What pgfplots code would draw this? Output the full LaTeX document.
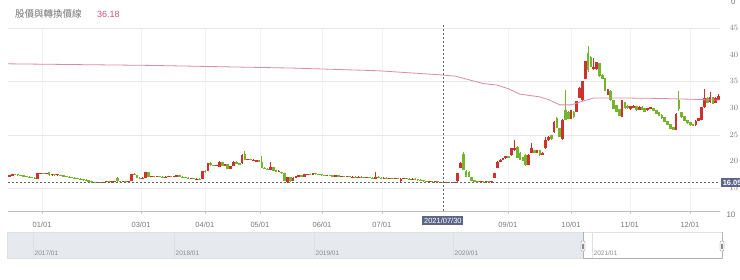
\documentclass[border=0pt]{standalone}
\usepackage{pgfplots}
\pgfplotsset{compat=1.18}
\usepackage{pgfplotstable}
\usepackage{fontspec}
\setmainfont{Liberation Sans}
\newfontfamily\cjk{Noto Sans CJK TC}
\definecolor{cred}{HTML}{D0312D}
\definecolor{cgreen}{HTML}{74B52E}
\definecolor{cpink}{HTML}{D98BA6}
\definecolor{cpinkt}{HTML}{C2557E}
\definecolor{slate}{HTML}{5B6587}
\definecolor{tickc}{HTML}{777777}
\definecolor{navgrey}{HTML}{E6E9EE}

\pgfplotstableread{
i o h l c
0 17.1 17.4 17.0 17.3
1 17.3 17.7 17.2 17.6
2 17.6 17.7 17.4 17.5
3 17.5 17.6 17.3 17.4
4 17.4 17.5 17.2 17.3
5 17.3 17.4 17.1 17.2
6 17.2 17.3 17.0 17.1
7 17.1 17.2 16.9 17.0
8 17.0 17.1 16.8 16.9
9 16.9 17.0 16.7 16.8
10 16.8 17.8 16.7 17.7
11 17.7 17.9 17.6 17.8
12 17.8 17.9 17.6 17.7
13 17.7 17.9 17.6 17.8
14 18.0 18.1 17.3 17.4
15 17.4 17.7 17.3 17.6
16 17.5 17.6 17.3 17.4
17 17.4 17.6 17.3 17.5
18 17.4 17.5 17.2 17.3
19 17.3 17.4 17.1 17.2
20 17.2 17.3 17.0 17.1
21 17.1 17.2 16.9 17.0
22 17.0 17.1 16.8 16.9
23 16.9 17.0 16.7 16.8
24 16.8 16.9 16.6 16.7
25 16.7 16.8 16.5 16.6
26 16.6 16.7 16.4 16.5
27 16.5 16.6 16.3 16.4
28 16.4 16.5 16.1 16.2
29 16.2 16.3 16.0 16.1
30 16.1 16.2 15.9 16.0
31 16.0 16.2 15.9 16.1
32 16.1 16.2 15.9 16.0
33 16.0 16.2 15.9 16.1
34 16.1 16.3 16.0 16.2
35 16.2 16.3 16.0 16.1
36 16.1 16.3 16.0 16.2
37 16.2 16.4 16.1 16.3
38 16.9 17.0 16.2 16.3
39 16.3 16.4 16.1 16.2
40 16.2 16.4 16.1 16.3
41 16.3 16.4 16.1 16.2
42 16.2 16.4 16.1 16.3
43 16.4 17.7 16.3 17.6
44 17.6 17.8 17.4 17.5
45 17.3 17.4 16.8 16.9
46 16.9 17.0 16.7 16.8
47 16.8 17.0 16.7 16.9
48 17.0 18.1 16.9 17.9
49 17.9 18.0 17.0 17.1
50 17.1 17.3 17.0 17.2
51 17.2 17.3 17.0 17.1
52 17.1 17.3 17.0 17.2
53 17.2 17.3 17.0 17.1
54 17.1 17.2 16.9 17.0
55 17.0 17.2 16.9 17.1
56 17.1 17.3 17.0 17.2
57 17.2 17.3 17.0 17.1
58 17.1 17.3 17.0 17.2
59 17.2 17.4 17.1 17.3
60 17.3 17.4 17.0 17.1
61 17.1 17.2 16.9 17.0
62 17.0 17.1 16.8 16.9
63 16.9 17.0 16.7 16.8
64 16.8 16.9 16.7 16.8
65 16.8 16.9 16.6 16.7
66 16.7 16.8 16.6 16.7
67 16.7 16.8 16.5 16.6
68 16.7 18.2 16.6 18.1
69 18.1 18.3 17.9 18.0
70 18.3 19.7 18.2 19.6
71 19.6 19.8 19.2 19.3
72 19.3 19.4 19.1 19.2
73 19.2 19.4 19.1 19.3
74 19.0 20.0 18.9 19.9
75 19.8 19.9 19.1 19.2
76 19.2 19.5 19.1 19.4
77 19.4 19.5 18.5 18.6
78 18.6 19.2 18.5 19.1
79 19.2 20.0 19.1 19.9
80 19.9 20.0 19.5 19.6
81 19.6 19.7 19.3 19.4
82 19.7 21.3 19.6 21.2
83 21.4 21.9 20.2 20.3
84 20.3 20.5 20.2 20.4
85 20.4 20.5 20.2 20.3
86 20.2 20.4 20.1 20.3
87 19.9 20.3 19.8 20.2
88 20.2 20.3 19.9 20.0
89 19.9 21.0 18.7 18.8
90 18.8 18.9 18.5 18.6
91 18.6 18.7 18.4 18.5
92 18.5 19.9 18.4 18.9
93 18.9 19.0 18.2 18.3
94 18.3 18.4 18.0 18.1
95 18.1 18.3 18.0 18.2
96 18.0 18.1 17.6 17.8
97 17.8 17.9 16.3 16.4
98 16.2 17.1 16.0 17.0
99 17.0 17.1 16.2 16.3
100 16.4 17.0 16.3 16.9
101 16.9 17.3 16.8 17.2
102 17.2 17.4 17.1 17.3
103 17.3 17.4 17.1 17.2
104 17.2 17.6 17.1 17.5
105 17.5 17.7 17.4 17.6
106 17.6 17.7 17.4 17.5
107 17.5 17.8 17.4 17.7
108 17.7 17.8 17.5 17.6
109 17.6 17.7 17.4 17.5
110 17.5 17.6 17.3 17.4
111 17.4 17.5 17.2 17.3
112 17.3 17.5 17.2 17.4
113 17.4 17.5 17.2 17.3
114 17.3 17.4 17.1 17.2
115 17.2 17.4 17.1 17.3
116 17.3 17.4 17.1 17.2
117 17.2 17.3 17.1 17.2
118 17.2 17.3 17.0 17.1
119 17.1 17.3 17.0 17.2
120 17.2 17.3 17.0 17.1
121 17.1 17.2 17.0 17.1
122 17.1 17.2 16.9 17.0
123 17.0 17.2 16.9 17.1
124 17.1 17.2 16.9 17.0
125 17.0 17.1 16.8 16.9
126 16.9 17.1 16.8 17.0
127 17.0 17.1 16.8 16.9
128 16.9 17.0 16.7 16.8
129 16.8 18.1 16.7 17.1
130 17.1 17.2 16.8 16.9
131 16.9 17.0 16.7 16.8
132 16.8 17.0 16.7 16.9
133 16.9 17.0 16.7 16.8
134 16.8 16.9 16.7 16.8
135 16.8 16.9 16.6 16.7
136 16.7 16.9 16.6 16.8
137 16.8 16.9 16.6 16.7
138 16.3 16.8 16.2 16.7
139 16.7 16.9 16.6 16.8
140 16.8 16.9 16.6 16.7
141 16.7 16.8 16.5 16.6
142 16.6 16.8 16.5 16.7
143 16.7 16.8 16.5 16.6
144 16.6 16.7 16.4 16.5
145 16.5 16.6 16.3 16.4
146 16.4 16.5 16.2 16.3
147 16.3 16.4 16.1 16.2
148 16.2 16.3 16.1 16.2
149 16.2 16.3 16.0 16.1
150 16.1 16.3 16.0 16.2
151 16.2 16.3 16.0 16.1
152 16.1 16.2 16.0 16.1
153 16.1 16.2 15.9 16.0
154 16.0 16.2 15.9 16.1
155 16.1 16.2 15.9 16.0
156 16.0 16.2 15.9 16.1
157 16.1 16.2 16.0 16.1
158 16.3 17.9 16.2 17.8
159 18.9 19.8 18.8 19.6
160 21.3 21.8 18.3 18.4
161 18.2 18.4 17.1 17.2
162 18.0 18.2 17.0 17.1
163 17.0 17.1 16.3 16.4
164 16.4 16.5 16.1 16.2
165 16.2 16.3 16.0 16.1
166 16.1 16.3 16.0 16.2
167 16.2 16.3 16.0 16.1
168 16.1 16.3 16.0 16.2
169 16.2 16.3 16.0 16.1
170 16.1 16.3 16.0 16.2
171 16.9 17.9 16.8 17.8
172 18.8 20.0 18.7 19.9
173 19.9 20.4 19.8 20.3
174 20.3 20.7 20.2 20.5
175 20.6 21.0 20.5 20.9
176 20.9 21.0 20.6 20.7
177 21.2 22.5 21.1 22.4
178 22.1 24.0 22.0 22.5
179 22.7 22.8 20.6 20.7
180 21.6 21.7 20.2 20.3
181 20.8 20.9 20.0 20.1
182 21.2 21.3 19.2 19.3
183 19.4 21.3 19.3 21.2
184 21.6 23.4 21.5 22.4
185 22.1 22.2 21.6 21.7
186 21.7 22.1 21.6 22.0
187 22.1 22.2 21.1 21.2
188 21.3 21.7 21.2 21.6
189 22.5 24.6 22.4 24.0
190 24.0 24.8 23.9 24.5
191 24.9 25.0 24.1 24.2
192 25.5 27.5 25.4 27.4
193 28.1 28.4 26.2 26.3
194 26.2 26.3 24.5 24.6
195 24.2 27.9 24.1 27.8
196 29.6 33.4 27.7 27.8
197 29.3 29.4 27.9 28.0
198 28.0 29.7 27.9 29.6
199 29.3 29.4 28.2 28.3
200 29.3 31.4 29.2 31.3
201 32.0 33.9 31.9 33.8
202 31.5 35.1 31.4 35.0
203 35.5 38.9 35.4 38.8
204 40.3 41.6 36.8 37.2
205 39.5 39.7 37.7 37.8
206 37.3 39.4 37.2 37.6
207 37.3 38.6 37.2 38.5
208 38.4 38.5 35.9 36.0
209 36.2 36.3 35.4 35.5
210 35.5 35.6 33.2 33.3
211 32.5 33.6 32.4 33.5
212 33.2 33.3 31.4 31.5
213 31.5 31.6 29.8 29.9
214 30.5 30.6 29.2 29.3
215 29.8 29.9 28.5 28.6
216 28.4 31.5 28.3 31.4
217 31.0 31.1 29.9 30.0
218 30.4 30.5 29.9 30.0
219 29.8 30.4 29.7 30.3
220 30.1 30.5 30.0 30.4
221 30.3 30.4 29.5 29.6
222 29.7 30.3 29.6 30.2
223 30.2 30.3 29.6 29.7
224 29.9 30.0 29.3 29.4
225 29.6 30.1 29.5 30.0
226 29.9 30.2 29.8 30.1
227 30.0 30.1 29.4 29.5
228 29.6 29.7 28.9 29.0
229 29.2 29.3 28.5 28.6
230 28.7 28.8 28.0 28.1
231 28.2 28.3 27.3 27.4
232 27.5 27.6 26.8 26.9
233 26.9 27.0 26.1 26.2
234 26.4 26.5 25.9 26.0
235 26.0 29.0 25.9 28.9
236 31.5 33.2 29.5 29.8
237 29.2 29.3 28.2 28.3
238 28.4 28.5 27.5 27.6
239 27.7 27.8 27.1 27.2
240 27.3 27.4 26.7 26.8
241 27.0 27.1 26.6 26.7
242 26.8 27.7 26.7 27.6
243 27.6 28.1 27.5 28.0
244 27.8 30.2 27.7 30.1
245 30.2 33.6 30.1 31.8
246 31.9 32.0 30.9 31.0
247 31.1 33.0 31.0 32.0
248 32.0 32.1 30.8 30.9
249 31.0 32.0 30.9 31.9
250 31.6 32.6 31.5 32.2
}\candles

\pgfplotstableread{
i v
-0.5 38.3
50 38.0
100 37.5
130 37.0
150 36.3
153 36.18
157 36.0
160 35.6
162 35.3
167 34.6
172 34.3
176 33.6
180 32.6
187 32.1
190 31.6
194 30.6
198 30.6
201 31.1
206 31.9
215 31.9
230 31.8
250.5 31.5
}\cvline

\pgfplotsset{
  candle/.style n args={2}{only marks, mark=*, mark size=0pt,
    mark options={draw=none, fill=none},
    error bars/.cd, y dir=minus, y explicit, error mark=none,
    error bar style={line width=#2, draw=#1}},
}

\begin{document}
\begin{tikzpicture}
\path[use as bounding box] (0pt,0pt) rectangle (740pt,-279pt);
\begin{axis}[
  at={(8pt,-211pt)}, anchor=south west,
  scale only axis, width=712pt, height=182.9pt,
  xmin=-0.5, xmax=250.5, ymin=10.69, ymax=45,
  axis x line*=bottom, axis y line*=right,
  y axis line style={draw=none},
  x axis line style={draw=black!25},
  clip mode=individual,
  ytick={15,20,25,30,35,40,45},
  yticklabel style={font=\fontsize{8}{9}\selectfont, text=tickc, anchor=west, xshift=3pt},
  ytick style={draw=none},
  xtick={11.5,46.4,68.9,88.3,110.2,131.3,175.7,198.0,218.7,239.9},
  xticklabels={01/01,03/01,04/01,05/01,06/01,07/01,09/01,10/01,11/01,12/01},
  xticklabel style={font=\fontsize{7.5}{9}\selectfont, text=tickc, yshift=-5pt},
  xtick style={draw=black!20},
  tick align=outside, major tick length=3pt,
  xmajorgrids, grid style={draw=black!5},
  extra y ticks={15,25,35,45}, extra y tick labels={},
  extra y tick style={grid=major, major grid style={draw=black!9}},
]
% wicks
\addplot[restrict expr to domain={\thisrow{c}-\thisrow{o}}{0:100}, candle={cred}{0.9pt}]
  table[x=i, y=h, y error minus expr={\thisrow{h}-\thisrow{l}}] {\candles};
\addplot[restrict expr to domain={\thisrow{c}-\thisrow{o}}{-100:-0.001}, candle={cgreen}{0.9pt}]
  table[x=i, y=h, y error minus expr={\thisrow{h}-\thisrow{l}}] {\candles};
% bodies
\addplot[restrict expr to domain={\thisrow{c}-\thisrow{o}}{0:100}, candle={cred}{2.7pt}]
  table[x=i, y expr={max(\thisrow{o},\thisrow{c})+0.05}, y error minus expr={max(abs(\thisrow{c}-\thisrow{o}),0.1)+0.1}] {\candles};
\addplot[restrict expr to domain={\thisrow{c}-\thisrow{o}}{-100:-0.001}, candle={cgreen}{2.7pt}]
  table[x=i, y expr={max(\thisrow{o},\thisrow{c})+0.05}, y error minus expr={max(abs(\thisrow{c}-\thisrow{o}),0.1)+0.1}] {\candles};
% line
\addplot[cpink, line width=0.8pt, mark=none] table[x=i, y=v] {\cvline};
% crosshair
\draw[black!60, dash pattern=on 2pt off 2pt, line width=0.6pt] (axis cs:-0.5,16) -- (axis cs:250.5,16);
\draw[black!60, dash pattern=on 2pt off 2pt, line width=0.6pt] (axis cs:152.8,10.69) -- (axis cs:152.8,45.5);
\node[fill=slate, text=white, font=\fontsize{7.5}{8}\selectfont, inner sep=1.6pt, anchor=north] at (axis cs:152.8,10.69) [yshift=-5pt] {2021/07/30};
\node[fill=slate, text=white, font=\bfseries\fontsize{7.5}{8}\selectfont, inner sep=1.6pt, anchor=west] at (axis cs:250.5,16) [xshift=1pt] {16.05};
\node[font=\fontsize{8}{9}\selectfont, text=tickc, anchor=west] at (axis cs:250.5,10) [xshift=3pt] {10};
\node[font=\fontsize{8}{9}\selectfont, text=tickc, anchor=west] at (axis cs:250.5,50) [xshift=7.5pt] {0};
\end{axis}
% header
\node[anchor=west, font=\cjk\fontsize{9.5}{10}\selectfont, text=black!55, inner sep=0pt] at (15pt,-14pt) {股價與轉換價線};
\node[anchor=west, font=\fontsize{9}{10}\selectfont, text=cpinkt, inner sep=0pt] at (97pt,-14pt) {36.18};
% navigator
\fill[navgrey] (7pt,-232pt) rectangle (583pt,-258pt);
\draw[black!12] (7pt,-232pt) rectangle (722pt,-258pt);
\foreach \xx/\yy in {33/2017,174/2018,314/2019,453/2020,592/2021}{
  \draw[black!12] (\xx pt,-232pt) -- (\xx pt,-258pt);
  \node[anchor=west, font=\fontsize{6.5}{7}\selectfont, text=black!45, inner sep=0pt] at (\xx pt+1.5pt,-253pt) {\yy/01};
}
\draw[black!30] (583pt,-232pt) -- (583pt,-258pt) -- (722pt,-258pt) -- (722pt,-232pt);
\foreach \xx in {583,722}{
  \draw[black!45, fill=black!4, rounded corners=0.8pt] (\xx pt-2pt,-241pt) rectangle (\xx pt+2pt,-251pt);
  \draw[black!45] (\xx pt-0.6pt,-243.5pt) -- (\xx pt-0.6pt,-248.5pt);
  \draw[black!45] (\xx pt+0.6pt,-243.5pt) -- (\xx pt+0.6pt,-248.5pt);
}
\end{tikzpicture}
\end{document}
